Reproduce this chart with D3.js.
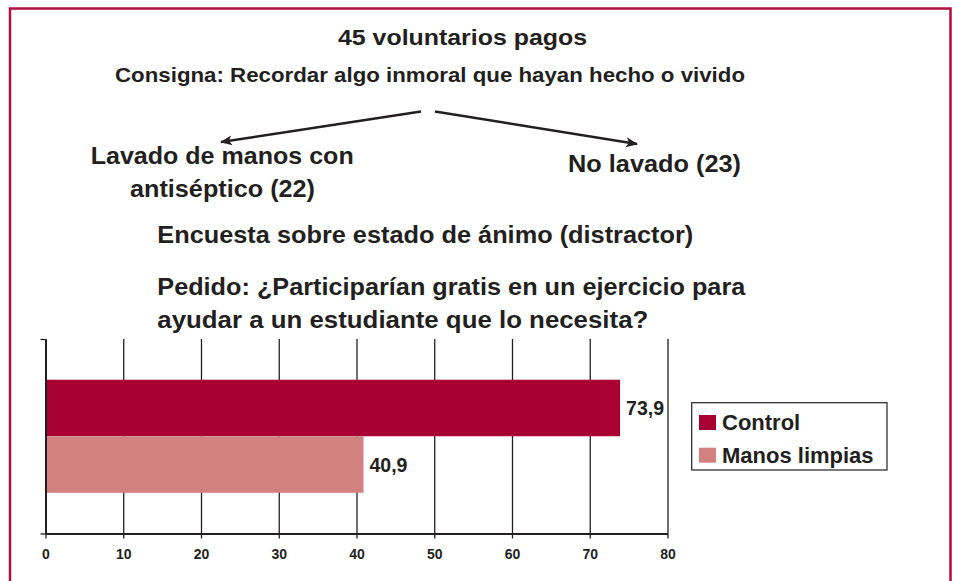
<!DOCTYPE html>
<html>
<head>
<meta charset="utf-8">
<script src="https://cdn.jsdelivr.net/npm/d3@7"></script>
<style>
  body { margin: 0; background: #fff; }
  svg text { font-family: "Liberation Sans", Arial, sans-serif; font-weight: bold; fill: #231f20; }
</style>
</head>
<body>
<div class="chart"></div>
<script>
// data
const series = ["Control", "Manos limpias"];
const values = [73.9, 40.9];
const colors = ["#A80032", "#D38080"];
const xTicks = [0, 10, 20, 30, 40, 50, 60, 70, 80];
const category = ["Pedido"];

const title = "45 voluntarios pagos";
const consigna = "Consigna: Recordar algo inmoral que hayan hecho o vivido";
const groupA = ["Lavado de manos con", "antiséptico (22)"];
const groupB = "No lavado (23)";
const encuesta = "Encuesta sobre estado de ánimo (distractor)";
const pedido = ["Pedido: ¿Participarían gratis en un ejercicio para", "ayudar a un estudiante que lo necesita?"];

const W = 953, H = 581;
const ink = "#231f20";

const svg = d3.select('.chart')
    .append('svg')
    .attr("width", W)
    .attr("height", H);

// frame
svg.append("rect")
    .attr("x", 10).attr("y", 8.5)
    .attr("width", 940.5).attr("height", 600)
    .attr("fill", "none")
    .attr("stroke", "#B30D3C")
    .attr("stroke-width", 2.5);

// helper for the text lines
function line(txt, x, y, size, len, anchor) {
    const t = svg.append("text")
        .attr("x", x).attr("y", y)
        .attr("font-size", size)
        .attr("text-anchor", anchor || "start")
        .text(txt);
    if (len) t.attr("textLength", len).attr("lengthAdjust", "spacingAndGlyphs");
    return t;
}

line(title, 338, 45, 22, 249);
line(consigna, 115, 82, 21, 630);
line(groupA[0], 90.7, 163.5, 24, 263);
line(groupA[1], 130, 196.5, 24, 185);
line(groupB, 568, 172, 24, 173);
line(encuesta, 157.3, 242.5, 23, 536);
line(pedido[0], 157.3, 294.5, 23, 588);
line(pedido[1], 157.3, 328, 23, 491);

// arrows
const defs = svg.append("defs");
defs.append("marker")
    .attr("id", "head")
    .attr("viewBox", "0 0 12 10")
    .attr("refX", 11).attr("refY", 5)
    .attr("markerWidth", 12).attr("markerHeight", 10)
    .attr("markerUnits", "userSpaceOnUse")
    .attr("orient", "auto")
    .append("path")
    .attr("d", "M0,0 L12,5 L0,10 L3,5 Z")
    .attr("fill", ink);

svg.append("line")
    .attr("x1", 421).attr("y1", 111.5).attr("x2", 221).attr("y2", 142)
    .attr("stroke", ink).attr("stroke-width", 2.5)
    .attr("marker-end", "url(#head)");
svg.append("line")
    .attr("x1", 435).attr("y1", 111.5).attr("x2", 637).attr("y2", 144)
    .attr("stroke", ink).attr("stroke-width", 2.5)
    .attr("marker-end", "url(#head)");

// chart
const plot = {left: 45.5, right: 667.5, top: 339, bottom: 533.5};

const xScale = d3.scaleLinear()
    .domain([0, 80])
    .range([plot.left, plot.right]);

const yScale = d3.scaleBand()
    .domain(category)
    .range([plot.top, plot.bottom])
    .paddingOuter(0.36);

const ySub = d3.scaleBand()
    .domain(series)
    .range([0, yScale.bandwidth()]);

const g = svg.append("g");

// gridlines
g.append("g")
    .attr("transform", `translate(0, ${plot.bottom})`)
    .call(d3.axisBottom(xScale).tickValues(xTicks).tickSize(-(plot.bottom - plot.top)).tickFormat(""))
    .call(s => s.select(".domain").remove())
    .call(s => s.selectAll("line").attr("stroke", ink).attr("stroke-width", 1.3));

// bars
g.selectAll("rect.bar")
    .data(series)
    .enter()
    .append("rect")
    .attr("class", "bar")
    .attr("x", xScale(0))
    .attr("y", d => yScale(category[0]) + ySub(d))
    .attr("width", (d, i) => xScale(values[i]) - xScale(0))
    .attr("height", ySub.bandwidth())
    .attr("fill", (d, i) => colors[i]);

// value labels
const fmt = d3.formatLocale({decimal: ",", thousands: ".", grouping: [3], currency: ["", ""]}).format(".1f");
g.selectAll("text.val")
    .data(series)
    .enter()
    .append("text")
    .attr("class", "val")
    .attr("x", (d, i) => xScale(values[i]) + 6)
    .attr("y", d => yScale(category[0]) + ySub(d) + ySub.bandwidth() / 2 + 7)
    .attr("font-size", 20)
    .attr("textLength", 38)
    .attr("lengthAdjust", "spacingAndGlyphs")
    .text((d, i) => fmt(values[i]));

// x axis
const xAxis = g.append("g")
    .attr("transform", `translate(0, ${plot.bottom})`)
    .call(d3.axisBottom(xScale).tickValues(xTicks).tickSize(5).tickSizeOuter(0).tickPadding(11));
xAxis.select(".domain").attr("stroke", ink).attr("stroke-width", 2);
xAxis.selectAll("line").attr("stroke", ink).attr("stroke-width", 1.3);
xAxis.selectAll("text")
    .attr("font-size", 14)
    .attr("font-family", "Liberation Sans, Arial, sans-serif")
    .attr("fill", ink);

// y axis
const yLin = d3.scaleLinear().domain([0, 1]).range([plot.bottom, plot.top]);
const yAxis = g.append("g")
    .attr("transform", `translate(${plot.left}, 0)`)
    .call(d3.axisLeft(yLin).tickValues([0, 1]).tickSize(5).tickSizeOuter(0).tickFormat(""));
yAxis.select(".domain").attr("stroke", ink).attr("stroke-width", 2);
yAxis.selectAll("line").attr("stroke", ink).attr("stroke-width", 1.3);

// legend
const legend = svg.append("g")
    .attr("transform", "translate(691.7, 402.7)");
legend.append("rect")
    .attr("width", 195.3).attr("height", 67.3)
    .attr("fill", "none")
    .attr("stroke", "#333").attr("stroke-width", 1.3);
legend.selectAll("rect.box")
    .data(series)
    .enter()
    .append("rect")
    .attr("class", "box")
    .attr("x", 7.3)
    .attr("y", (d, i) => 12.3 + 32.7 * i)
    .attr("width", 17).attr("height", 15)
    .attr("fill", (d, i) => colors[i]);
legend.selectAll("text")
    .data(series)
    .enter()
    .append("text")
    .attr("x", 30.3)
    .attr("y", (d, i) => 27.5 + 32.7 * i)
    .attr("font-size", 22)
    .text(d => d);
</script>
</body>
</html>
